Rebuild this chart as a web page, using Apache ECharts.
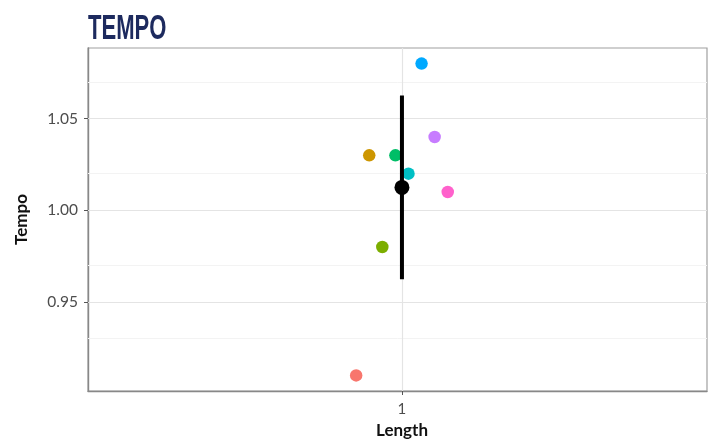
<!DOCTYPE html>
<html>
<head>
<meta charset="utf-8">
<script src="https://cdn.jsdelivr.net/npm/echarts@6/dist/echarts.min.js"></script>
<style>
  html, body { margin: 0; padding: 0; background: #fff; }
  #chart { width: 712px; height: 444px; }
</style>
</head>
<body>
<div id="chart"></div>
<script>
// Tempo per group at Length = 1, with the group mean ± SD
const lengthCategory = 1;
const tempoValues = [0.91, 1.03, 0.98, 1.03, 1.02, 1.08, 1.04, 1.01];
const groupColors = ['#F8766D', '#CD9600', '#7CAE00', '#00BE67', '#00BFC4', '#00A9FF', '#C77CFF', '#FF61CC'];
const yTickValues = [0.95, 1.00, 1.05];
const yMinorValues = [0.925, 0.975, 1.025, 1.075];
const xTickValues = [1];

// dodge the groups side by side around the category position
const dodgeWidth = 0.2;
const n = tempoValues.length;
const pointData = tempoValues.map((v, i) => ({
  value: [lengthCategory + (i - (n - 1) / 2) * (dodgeWidth / n), v],
  itemStyle: { color: groupColors[i], opacity: 1 }
}));

// summary statistics
const mean = tempoValues.reduce((a, b) => a + b, 0) / n;
const sd = Math.sqrt(tempoValues.reduce((a, b) => a + (b - mean) * (b - mean), 0) / (n - 1));

// y range with 5% expansion
const lo = Math.min(...tempoValues, mean - sd);
const hi = Math.max(...tempoValues, mean + sd);
const pad = (hi - lo) * 0.05;

const chart = echarts.init(document.getElementById('chart'), null, { renderer: 'canvas' });

const gridLines = []
  .concat(yMinorValues.map(v => ({ yAxis: v, lineStyle: { color: '#f3f3f3', width: 1, type: 'solid' } })))
  .concat(yTickValues.map(v => ({ yAxis: v, lineStyle: { color: '#e4e4e4', width: 1.2, type: 'solid' } })))
  .concat(xTickValues.map(v => ({ xAxis: v, lineStyle: { color: '#e4e4e4', width: 1.2, type: 'solid' } })));

chart.setOption({
  animation: false,
  backgroundColor: '#ffffff',
  graphic: [{
    type: 'text',
    x: 88,
    y: 12,
    scaleX: 0.63,
    style: {
      text: 'TEMPO',
      fill: '#1d2a5e',
      font: 'bold 35px "Liberation Sans Narrow", "Liberation Sans", sans-serif',
      textVerticalAlign: 'top'
    }
  }],
  grid: {
    left: 88, right: 5, top: 48, bottom: 50,
    show: true,
    borderColor: '#a0a0a0',
    borderWidth: 1.2
  },
  xAxis: {
    type: 'value',
    min: 0.4,
    max: 1.583,
    name: 'Length',
    nameLocation: 'middle',
    nameGap: 31,
    nameTextStyle: { fontFamily: 'Lato', fontWeight: 'bold', fontSize: 17, color: '#111', padding: [0, 0, 0, 9] },
    axisLine: { show: true, lineStyle: { color: '#888', width: 1.4 } },
    axisTick: { show: true, length: 4, customValues: xTickValues, lineStyle: { color: '#555' } },
    axisLabel: { customValues: xTickValues, fontFamily: 'Lato', fontSize: 15, color: '#4d4d4d', margin: 11, formatter: v => String(v) },
    splitLine: { show: false }
  },
  yAxis: {
    type: 'value',
    min: lo - pad,
    max: hi + pad,
    name: 'Tempo',
    nameLocation: 'middle',
    nameGap: 58,
    nameTextStyle: { fontFamily: 'Lato', fontWeight: 'bold', fontSize: 17, color: '#111' },
    axisLine: { show: true, lineStyle: { color: '#888', width: 1.4 } },
    axisTick: { show: true, length: 4, customValues: yTickValues, lineStyle: { color: '#555' } },
    axisLabel: { customValues: yTickValues, fontFamily: 'Lato', fontSize: 15.5, color: '#4d4d4d', margin: 10, formatter: v => v.toFixed(2) },
    splitLine: { show: false }
  },
  series: [
    {
      type: 'line',
      data: [],
      z: 1,
      silent: true,
      markLine: {
        silent: true,
        z: 1,
        symbol: 'none',
        label: { show: false },
        data: gridLines
      }
    },
    {
      type: 'scatter',
      data: pointData,
      symbolSize: 12.5,
      z: 3
    },
    {
      type: 'line',
      data: [[lengthCategory, mean - sd], [lengthCategory, mean + sd]],
      showSymbol: false,
      symbol: 'none',
      lineStyle: { color: '#000', width: 4 },
      z: 4
    },
    {
      type: 'scatter',
      data: [[lengthCategory, mean]],
      symbolSize: 15,
      itemStyle: { color: '#000', opacity: 1 },
      z: 5
    }
  ]
});
</script>
</body>
</html>
